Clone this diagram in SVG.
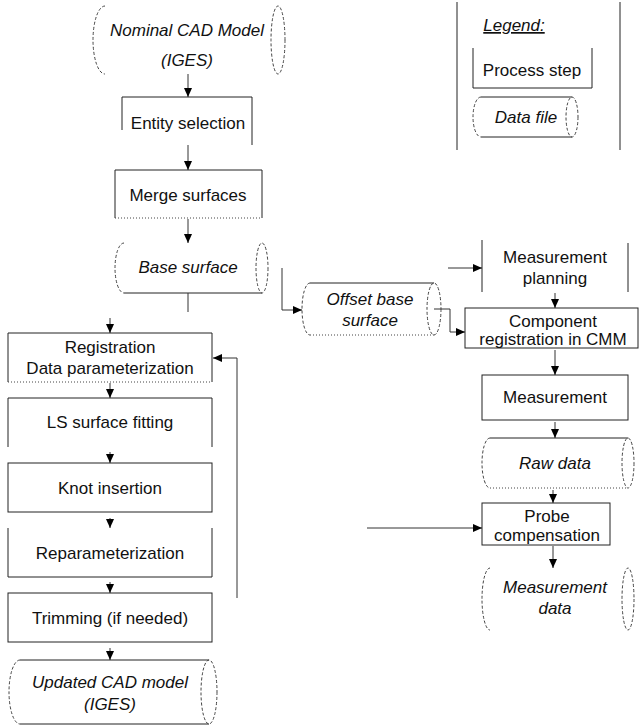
<svg xmlns="http://www.w3.org/2000/svg" width="640" height="728" viewBox="0 0 640 728">
<style>
text{font-family:"Liberation Sans",Arial,sans-serif;font-size:17px;fill:#111;text-anchor:middle}
.it{font-style:italic}
.ln{fill:none;stroke:#222;stroke-width:1}
.dl{fill:none;stroke:#444;stroke-width:1;stroke-dasharray:3,2}
.dt{fill:none;stroke:#444;stroke-width:1;stroke-dasharray:1,2}
.cn{fill:none;stroke:#333;stroke-width:1}
</style>
<defs>
<marker id="ah" markerWidth="10" markerHeight="10" refX="9" refY="5" orient="auto" markerUnits="userSpaceOnUse">
<path d="M0,1 L9,5 L0,9 Z" fill="#000"/>
</marker>
</defs>
<rect width="640" height="728" fill="#fff"/>

<g id="legend">
<path class="ln" d="M457,2 V150 M620,2 V150"/>
<text x="514" y="31" class="it" text-decoration="underline">Legend:</text>
<path class="ln" d="M473,48 V88 H592 V48"/>
<text x="532" y="76">Process step</text>
<path class="dl" d="M481,97 A8,20 0 0 0 481,137"/>
<path class="ln" d="M481,97 H572 M481,137 H572"/>
<ellipse class="dl" cx="572" cy="117" rx="6" ry="20"/>
<text x="526" y="123" class="it">Data file</text>
</g>

<g id="nominal-cad">
<path class="dl" d="M105,6 A12,34 0 0 0 105,74"/>
<ellipse class="dl" cx="278" cy="40" rx="7" ry="34"/>
<text x="187" y="36" class="it">Nominal CAD Model</text>
<text x="187" y="66" class="it">(IGES)</text>
</g>

<g id="entity-selection">
<path class="ln" d="M122,130 V97 H252 V145"/>
<text x="188" y="129">Entity selection</text>
</g>

<g id="merge-surfaces">
<path class="ln" d="M115,218 V170 H262 V218"/>
<path class="dt" d="M115,218 H262"/>
<text x="188" y="201">Merge surfaces</text>
</g>

<g id="base-surface">
<path class="dl" d="M124,243 A9,25 0 0 0 124,293"/>
<path class="ln" d="M124,293 H262"/>
<ellipse class="dl" cx="262" cy="268" rx="6" ry="25"/>
<text x="188" y="273" class="it">Base surface</text>
</g>

<g id="offset-base-surface">
<path class="dl" d="M310,283 A8,26 0 0 0 310,335"/>
<path class="ln" d="M310,283 H434"/>
<path class="dt" d="M310,335 H434"/>
<ellipse class="dl" cx="434" cy="309" rx="7" ry="26"/>
<text x="370" y="305" class="it">Offset base</text>
<text x="370" y="326" class="it">surface</text>
</g>

<g id="registration">
<path class="ln" d="M8,382 V333 H212 V382"/>
<path class="dt" d="M8,382 H212"/>
<text x="110" y="353">Registration</text>
<text x="110" y="374">Data parameterization</text>
</g>

<g id="ls-fitting">
<path class="ln" d="M8,447 V398 H212 V447"/>
<text x="110" y="428">LS surface fitting</text>
</g>

<g id="knot-insertion">
<rect class="ln" x="8" y="463" width="204" height="49"/>
<text x="110" y="494">Knot insertion</text>
</g>

<g id="reparameterization">
<path class="ln" d="M8,528 V577 H212 V528"/>
<text x="110" y="559">Reparameterization</text>
</g>

<g id="trimming">
<rect class="ln" x="8" y="593" width="204" height="49"/>
<text x="110" y="624">Trimming (if needed)</text>
</g>

<g id="updated-cad">
<path class="dl" d="M20,660 A11,32 0 0 0 20,724"/>
<path class="ln" d="M20,660 H209 M20,724 H209"/>
<ellipse class="dl" cx="209" cy="692" rx="8" ry="32"/>
<text x="110" y="688" class="it">Updated CAD model</text>
<text x="110" y="710" class="it">(IGES)</text>
</g>

<g id="measurement-planning">
<path class="ln" d="M482,240 V292 M628,243 V292"/>
<text x="555" y="263">Measurement</text>
<text x="555" y="284">planning</text>
</g>

<g id="component-registration">
<rect class="ln" x="465" y="308" width="173" height="40"/>
<text x="553" y="327">Component</text>
<text x="553" y="345">registration in CMM</text>
</g>

<g id="measurement">
<rect class="ln" x="482" y="375" width="146" height="45"/>
<text x="555" y="403">Measurement</text>
</g>

<g id="raw-data">
<path class="dl" d="M490,438 A8,25 0 0 0 490,488"/>
<path class="ln" d="M490,438 H628"/>
<path class="dt" d="M490,488 H628"/>
<ellipse class="dl" cx="628" cy="463" rx="6" ry="25"/>
<text x="555" y="469" class="it">Raw data</text>
</g>

<g id="probe-compensation">
<rect class="ln" x="482" y="503" width="128" height="42"/>
<text x="547" y="522">Probe</text>
<text x="547" y="541">compensation</text>
</g>

<g id="measurement-data">
<path class="dl" d="M490,568 A8,31 0 0 0 490,630"/>
<ellipse class="dl" cx="628" cy="599" rx="6" ry="31"/>
<text x="555" y="593" class="it">Measurement</text>
<text x="555" y="614" class="it">data</text>
</g>

<g id="connectors">
<path class="cn" d="M188,74 V97" marker-end="url(#ah)"/>
<path class="cn" d="M188,145 V170" marker-end="url(#ah)"/>
<path class="cn" d="M188,219 V243" marker-end="url(#ah)"/>
<path class="cn" d="M188,293 V312"/>
<path class="cn" d="M110,318 V333" marker-end="url(#ah)"/>
<path class="cn" d="M110,383 V398" marker-end="url(#ah)"/>
<path class="cn" d="M110,452 V463" marker-end="url(#ah)"/>
<path class="cn" d="M110,518 V528" marker-end="url(#ah)"/>
<path class="cn" d="M110,582 V593" marker-end="url(#ah)"/>
<path class="cn" d="M110,648 V660" marker-end="url(#ah)"/>
<path class="cn" d="M237,598 V358 H213" marker-end="url(#ah)"/>
<path class="cn" d="M282,268 V310 H302" marker-end="url(#ah)"/>
<path class="cn" d="M434,309 H450 V332 H465" marker-end="url(#ah)"/>
<path class="cn" d="M448,268 H482" marker-end="url(#ah)"/>
<path class="cn" d="M555,293 V308" marker-end="url(#ah)"/>
<path class="cn" d="M555,350 V375" marker-end="url(#ah)"/>
<path class="cn" d="M555,422 V438" marker-end="url(#ah)"/>
<path class="cn" d="M553,490 V503" marker-end="url(#ah)"/>
<path class="cn" d="M367,528 H482" marker-end="url(#ah)"/>
<path class="cn" d="M553,546 V568" marker-end="url(#ah)"/>
</g>
</svg>
